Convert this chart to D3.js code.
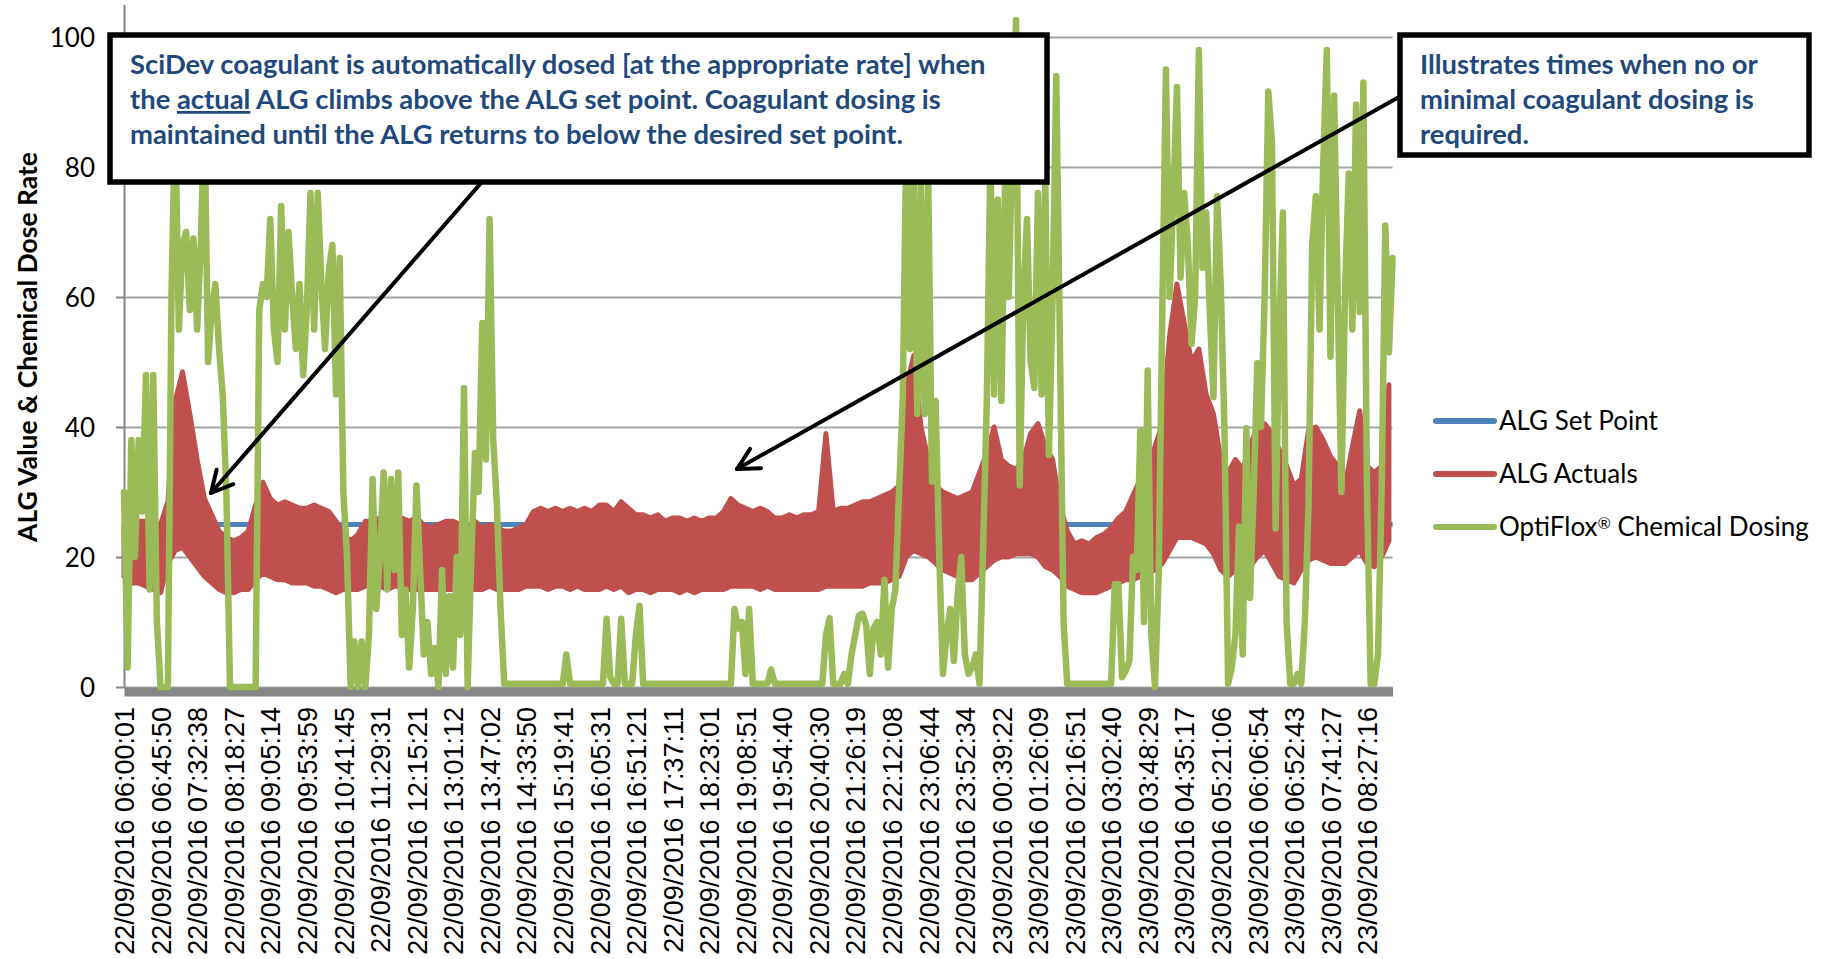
<!DOCTYPE html>
<html>
<head>
<meta charset="utf-8">
<script src="https://cdn.jsdelivr.net/npm/d3@7"></script>
<style>
  body { margin: 0; background: #ffffff; }
  svg { display: block; }
</style>
</head>
<body>
<div id="chart"></div>
<script>
// data

var tickLabels = [
  "22/09/2016 06:00:01", "22/09/2016 06:45:50", "22/09/2016 07:32:38", "22/09/2016 08:18:27",
  "22/09/2016 09:05:14", "22/09/2016 09:53:59", "22/09/2016 10:41:45", "22/09/2016 11:29:31",
  "22/09/2016 12:15:21", "22/09/2016 13:01:12", "22/09/2016 13:47:02", "22/09/2016 14:33:50",
  "22/09/2016 15:19:41", "22/09/2016 16:05:31", "22/09/2016 16:51:21", "22/09/2016 17:37:11",
  "22/09/2016 18:23:01", "22/09/2016 19:08:51", "22/09/2016 19:54:40", "22/09/2016 20:40:30",
  "22/09/2016 21:26:19", "22/09/2016 22:12:08", "22/09/2016 23:06:44", "22/09/2016 23:52:34",
  "23/09/2016 00:39:22", "23/09/2016 01:26:09", "23/09/2016 02:16:51", "23/09/2016 03:02:40",
  "23/09/2016 03:48:29", "23/09/2016 04:35:17", "23/09/2016 05:21:06", "23/09/2016 06:06:54",
  "23/09/2016 06:52:43", "23/09/2016 07:41:27", "23/09/2016 08:27:16"
];
var samplesPerLabel = 10;

var yTicks = [0, 20, 40, 60, 80, 100];

var seriesNames = ["ALG Set Point", "ALG Actuals", "OptiFlox® Chemical Dosing"];

// set point is flat
var setPoint = 25;

// OptiFlox dosing, one value every sample
var dosing = [
  30, 3, 38, 20, 38, 27, 48, 15, 48, 10,
  0, 0, 0, 61, 88, 55, 68, 70, 58, 69,
  55, 68, 88, 50, 58, 62, 52, 45, 30, 0,
  0, 0, 0, 0, 0, 0, 0, 58, 62, 60,
  72, 55, 50, 74, 55, 70, 60, 52, 62, 48,
  58, 76, 55, 76, 62, 52, 64, 68, 45, 66,
  30, 20, 0, 7, 0, 7, 0, 8, 32, 12,
  20, 33, 15, 32, 18, 33, 8, 15, 3, 12,
  31, 18, 5, 10, 2, 6, 0, 18, 2, 14,
  3, 20, 8, 46, 0, 20, 36, 30, 56, 35,
  72, 38, 28, 12, 0.5, 0.5, 0.5, 0.5, 0.5, 0.5,
  0.5, 0.5, 0.5, 0.5, 0.5, 0.5, 0.5, 0.5, 0.5, 0.5,
  0.5, 5, 0.5, 0.5, 0.5, 0.5, 0.5, 0.5, 0.5, 0.5,
  0.5, 0.5, 10.5, 1.5, 0.5, 0.5, 10.5, 0.5, 0.5, 0.5,
  8, 12.5, 0.5, 0.5, 0.5, 0.5, 0.5, 0.5, 0.5, 0.5,
  0.5, 0.5, 0.5, 0.5, 0.5, 0.5, 0.5, 0.5, 0.5, 0.5,
  0.5, 0.5, 0.5, 0.5, 0.5, 0.5, 0.5, 12, 9, 10,
  2, 12, 0.5, 0.5, 0.5, 0.5, 0.5, 2.7, 0.5, 0.5,
  0.5, 0.5, 0.5, 0.5, 0.5, 0.5, 0.5, 0.5, 0.5, 0.5,
  0.5, 0.5, 8, 10.6, 0.5, 0.5, 0.5, 2, 0.5, 5,
  8, 11, 11.3, 9.5, 2, 9, 10, 5, 16.5, 3,
  12, 15, 30, 44, 85, 52, 80, 42, 78, 42,
  78, 31.6, 44, 20, 2, 8, 12, 4, 14, 20,
  5, 2, 3, 5, 0.5, 21.6, 44, 82, 45, 75,
  44, 78, 60, 85, 102.6, 31, 60, 72, 50, 46,
  76, 45, 78, 35.7, 60, 94, 52.8, 10, 0.5, 0.5,
  0.5, 0.5, 0.5, 0.5, 0.5, 0.5, 0.5, 0.5, 0.5, 0.5,
  0.5, 15.8, 15.8, 1.5, 2.5, 4, 20, 18, 39.5, 10,
  48.7, 8, 0, 17, 57.7, 95, 60, 75, 92.3, 63,
  76, 68, 52.8, 60, 98, 64.5, 73, 57.7, 44.6, 75.5,
  61.8, 40, 0.5, 3, 8, 24.7, 5, 39.8, 13.7, 30,
  49.8, 40, 60, 91.6, 83.7, 24.4, 55, 73, 10, 0.5,
  0.5, 2, 0.5, 10, 28, 68, 75.5, 55, 80, 98,
  50.8, 91, 60, 30, 61, 79, 55, 89.6, 57.7, 93,
  30, 0.5, 0.5, 5, 30, 71, 51.5, 66
];

// ALG actuals swing fast, so keep the top and bottom of the swing every 2 samples
var algStep = 2;
var algHigh = [
  25, 26, 25.5, 25.5, 24.5, 25, 28.5, 44, 48.5, 42,
  35, 29, 26.5, 24, 23, 22.5, 23, 24, 28, 31.5,
  29, 28, 28.5, 28, 27.5, 27.5, 28, 27.5, 27, 25.5,
  23.5, 22.5, 23.5, 25.5, 25.5, 26, 25.5, 25.5, 26, 25.5,
  26, 25, 24.5, 25, 25.5, 25.5, 25, 24.5, 25.5, 24.5,
  25, 24.5, 24, 24, 24.5, 25, 27, 27.5, 27, 27.5,
  27, 27.5, 27, 27.5, 27, 28, 28, 27, 28.5, 27.5,
  26.5, 26.5, 26, 26.5, 25.5, 26, 26, 25.5, 26, 25.5,
  26, 26, 27, 29, 28, 27.5, 27, 27.5, 27, 26,
  26, 26.5, 26, 26.5, 26.5, 27, 39, 27, 27.5, 27.5,
  28, 28.5, 28.5, 29, 29.5, 30, 31, 46, 51, 40,
  35, 31, 30, 29.5, 29, 29.5, 30, 33, 36, 40,
  35, 34, 33.5, 35, 39, 40.5, 37, 35, 28, 24,
  22, 22.5, 22, 23, 23.5, 24.5, 26, 27, 29.5, 32,
  33.5, 37, 40.5, 54, 62, 56, 50, 52, 45, 42,
  35, 33, 35, 33.5, 37, 40, 40.5, 39, 36.5, 34,
  31, 32, 39.5, 40, 38, 35.5, 34, 31, 37, 42.5,
  34, 33, 34, 46.5
];
var algLow = [
  17, 16, 16, 15.5, 15, 14.5, 19, 21, 21.5, 20,
  18.5, 17, 16, 15, 14.5, 14.5, 15, 15, 16.5, 17.5,
  17, 16.5, 16.5, 16, 16, 16, 15.5, 15.5, 15, 14.5,
  15, 15, 15, 15.5, 15.5, 15.5, 15, 15.5, 15.5, 15,
  15, 15, 15, 15, 15, 15, 15, 15, 15, 15,
  15.5, 15, 15, 15, 15, 15.5, 15.5, 15.5, 15, 15.5,
  15.5, 15, 15.5, 15, 15, 15, 15.5, 15, 15.5, 14.5,
  15, 15, 14.5, 15, 15, 15, 14.5, 15, 14.5, 15,
  15, 15, 15, 15.5, 15.5, 15.5, 15.5, 15, 15.5, 15,
  15, 15, 15, 15, 15, 15, 15.5, 15.5, 15.5, 15.5,
  15.5, 15.5, 16, 16, 16, 16.5, 17, 20, 21, 20.5,
  20, 19, 18, 17.5, 17, 16.5, 16.5, 17.5, 18.5, 19.5,
  20, 20, 20.5, 20.5, 20.5, 20, 18.5, 18, 17, 15.5,
  15, 14.5, 14.5, 14.5, 15, 15.5, 16, 16.5, 16.5, 17,
  17.5, 18, 19, 21, 23, 23, 23, 22.5, 22, 20.5,
  18, 17, 18, 18.5, 18.5, 20, 21, 19, 17, 16.5,
  16, 18, 19.5, 20, 19.5, 19, 19, 19, 20, 21,
  19, 18.5, 20, 22.5
];

var noteLeft = ["SciDev coagulant is automatically dosed [at the appropriate rate] when",
  "the |actual| ALG climbs above the ALG set point. Coagulant dosing is",
  "maintained until the ALG returns to below the desired set point."];
var noteRight = ["Illustrates times when no or", "minimal coagulant dosing is", "required."];

// layout

var svgWidth = 1825;
var svgHeight = 959;

var plot = { left: 124, right: 1392.6, zero: 687, top: 4.5 };

var blue = "#4F81BD", red = "#C0504D", green = "#9BBB59", noteBlue = "#1F497D";
var calibri = "Lato, 'Open Sans', sans-serif";

var svg = d3.select("#chart")
  .append("svg")
  .attr("width", svgWidth)
  .attr("height", svgHeight);

var xScale = d3.scaleLinear()
  .domain([0, dosing.length - 1])
  .range([plot.left, plot.right]);

var yScale = d3.scaleLinear()
  .domain([0, 105])
  .range([plot.zero, plot.top]);

// gridlines
svg.append("g")
  .attr("transform", `translate(${plot.left}, 0)`)
  .call(d3.axisLeft(yScale).tickValues(yTicks).tickSize(-(plot.right - plot.left)).tickFormat(""))
  .call(g => g.select(".domain").remove())
  .call(g => g.selectAll("line").attr("stroke", "#a5a5a5").attr("stroke-width", 2));

// y axis
var yAxis = svg.append("g")
  .attr("transform", `translate(${plot.left}, 0)`)
  .call(d3.axisLeft(yScale).tickValues(yTicks).tickSizeInner(8).tickSizeOuter(0).tickPadding(21));

yAxis.select(".domain").attr("stroke", "#868686").attr("stroke-width", 2);
yAxis.selectAll(".tick line").attr("stroke", "#868686").attr("stroke-width", 2);
yAxis.selectAll(".tick text")
  .attr("font-family", calibri)
  .attr("font-size", "26px")
  .attr("fill", "#000")
  .attr("dy", "0.36em");

// x axis: thick grey bar with rotated date labels
var xAxis = svg.append("g")
  .attr("transform", `translate(0, ${plot.zero + 4.5})`)
  .call(d3.axisBottom(xScale)
    .tickValues(tickLabels.map((d, i) => i * samplesPerLabel))
    .tickFormat((d, i) => tickLabels[i])
    .tickSize(0));

xAxis.select(".domain").attr("stroke", "#868686").attr("stroke-width", 9);
xAxis.selectAll(".tick text")
  .attr("transform", "rotate(-90)")
  .attr("text-anchor", "end")
  .attr("x", -15.5)
  .attr("y", 0)
  .attr("dy", "0.36em")
  .attr("font-family", "'Liberation Sans', Arial, sans-serif")
  .attr("font-size", "27px")
  .attr("fill", "#000");

// y title
svg.append("text")
  .attr("transform", "translate(27, 347) rotate(-90)")
  .attr("text-anchor", "middle")
  .attr("dy", "0.36em")
  .attr("font-family", calibri)
  .attr("font-weight", "bold")
  .attr("font-size", "26.5px")
  .attr("fill", "#000")
  .text("ALG Value & Chemical Dose Rate");

// series
var setLine = d3.line()
  .x(d => xScale(d))
  .y(() => yScale(setPoint));

svg.append("path")
  .datum([0, dosing.length - 1])
  .attr("d", setLine)
  .attr("fill", "none")
  .attr("stroke", blue)
  .attr("stroke-width", 5);

var algArea = d3.area()
  .x((d, i) => xScale(i * algStep))
  .y0((d, i) => yScale(algLow[i]))
  .y1(d => yScale(d));

svg.append("path")
  .datum(algHigh)
  .attr("d", algArea)
  .attr("fill", red)
  .attr("stroke", red)
  .attr("stroke-width", 5)
  .attr("stroke-linejoin", "round");

var dosingLine = d3.line()
  .x((d, i) => xScale(i))
  .y(d => yScale(d));

svg.append("path")
  .datum(dosing)
  .attr("d", dosingLine)
  .attr("fill", "none")
  .attr("stroke", green)
  .attr("stroke-width", 6.5)
  .attr("stroke-linejoin", "round")
  .attr("stroke-linecap", "round");

// legend
var legendColors = [blue, red, green];
var legend = svg.append("g");

seriesNames.forEach(function (name, i) {
  var ly = 421 + i * 53;
  legend.append("line")
    .attr("x1", 1436).attr("x2", 1494)
    .attr("y1", ly).attr("y2", ly)
    .attr("stroke", legendColors[i])
    .attr("stroke-width", 6)
    .attr("stroke-linecap", "round");

  var t = legend.append("text")
    .attr("x", 1499)
    .attr("y", ly)
    .attr("dy", "0.36em")
    .attr("font-family", calibri)
    .attr("font-size", "26px")
    .attr("fill", "#000");

  var parts = name.split("®");
  t.append("tspan").text(parts[0]);
  if (parts.length > 1) {
    t.append("tspan").attr("font-size", "16px").attr("baseline-shift", "45%").text("®");
    t.append("tspan").text(parts[1]);
  }
});

// callouts
function arrow(x1, y1, x2, y2) {
  var g = svg.append("g")
    .attr("stroke", "#000")
    .attr("stroke-width", 4)
    .attr("stroke-linecap", "round")
    .attr("fill", "none");
  g.append("line").attr("x1", x1).attr("y1", y1).attr("x2", x2).attr("y2", y2);
  var a = Math.atan2(y1 - y2, x1 - x2);
  [-0.48, 0.48].forEach(function (da) {
    g.append("line")
      .attr("x1", x2).attr("y1", y2)
      .attr("x2", x2 + 24 * Math.cos(a + da))
      .attr("y2", y2 + 24 * Math.sin(a + da));
  });
}

function note(x, y, w, h, lines) {
  svg.append("rect")
    .attr("x", x).attr("y", y)
    .attr("width", w).attr("height", h)
    .attr("fill", "#fff")
    .attr("stroke", "#000")
    .attr("stroke-width", 5.5);

  var t = svg.append("text")
    .attr("font-family", calibri)
    .attr("font-weight", "bold")
    .attr("font-size", "27.4px")
    .attr("fill", noteBlue);

  lines.forEach(function (line, i) {
    var tl = t.append("tspan").attr("x", x + 20).attr("y", y + 39 + i * 35);
    line.split("|").forEach(function (piece, k) {
      var s = tl.append("tspan").text(piece);
      if (k === 1) s.style("text-decoration", "underline");
    });
  });
}

arrow(481, 183, 211, 493);
arrow(1399, 97, 737, 469);

note(110, 35, 937, 147, noteLeft);
note(1400, 35, 409, 120, noteRight);
</script>
</body>
</html>
